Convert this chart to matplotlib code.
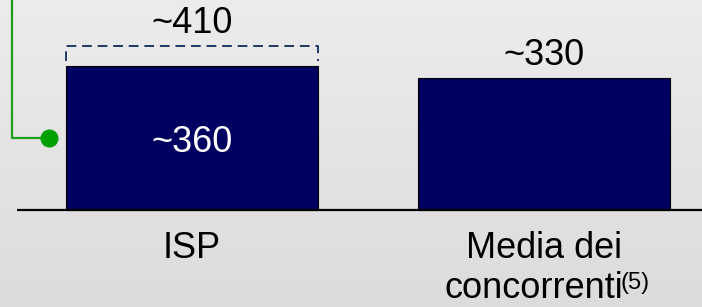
import numpy as np
import matplotlib
matplotlib.use("Agg")
import matplotlib.pyplot as plt

# dati
categories = ["ISP", "Media dei\nconcorrenti"]
values = [360, 330]
value_labels = ["~360", "~330"]
bracket_value = 410
bracket_label = "~410"
footnote = "(5)"

plt.rcParams["font.family"] = ["Liberation Sans", "DejaVu Sans"]

fig = plt.figure(figsize=(7.02, 3.07), dpi=100)
ax = fig.add_axes([0, 0, 1, 1])
ax.set_xlim(-0.5455, 1.449)
ax.set_ylim(-242.5, 525)
ax.axis("off")

# sfondo sfumato
grad = np.linspace(0, 1, 256).reshape(-1, 1)
ax.imshow(grad, extent=[-0.5455, 1.449, -242.5, 525], aspect="auto",
          cmap=matplotlib.colors.LinearSegmentedColormap.from_list("bg", ["#ececec", "#dcdcdc"]),
          origin="upper", zorder=0)

navy = "#000060"
x = np.arange(len(values))
bw = 0.716
ax.bar(x, values, width=bw, color=navy, edgecolor="black", linewidth=0.8, zorder=2)

# linea di base
ax.plot([-0.497, 1.449], [0, 0], color="black", lw=1.6, zorder=3, solid_capstyle="butt")

fs = 26
# etichette valori
ax.text(x[0], values[0] / 2, value_labels[0], color="white", fontsize=fs,
        ha="center", va="center_baseline", zorder=4)
ax.text(x[1], values[1] + 32, value_labels[1], color="black", fontsize=fs,
        ha="center", va="baseline", zorder=4)

# parentesi tratteggiata
bl, br = x[0] - bw / 2, x[0] + bw / 2
ax.plot([bl, bl, br, br], [bracket_value - 38, bracket_value, bracket_value, bracket_value - 38],
        color="#1f3864", lw=1.4, ls=(0, (5, 3)), zorder=3)
ax.text(x[0], bracket_value + 32, bracket_label, color="black", fontsize=fs,
        ha="center", va="baseline", zorder=4)

# connettore verde
gx = -0.5455 + 12 / 352
dx = -0.5455 + 49 / 352
ax.plot([gx, gx, dx], [525, 180, 180], color="#1aa01a", lw=1.6, zorder=3)
ax.plot([dx], [180], "o", color="#00a000", ms=12, zorder=4)

# categorie
ax.text(x[0], -120, categories[0], fontsize=fs, ha="center", va="baseline")
l1, l2 = categories[1].split("\n")
ax.text(x[1], -120, l1, fontsize=fs, ha="center", va="baseline")
t2 = ax.text(x[1] - 0.03, -219, l2, fontsize=fs, ha="center", va="baseline")
ax.annotate(footnote, xy=(1.0, 1.0), xycoords=t2, xytext=(-1.5, -1), textcoords="offset points",
            fontsize=17, ha="left", va="top")

fig.savefig("out.png", dpi=100)
